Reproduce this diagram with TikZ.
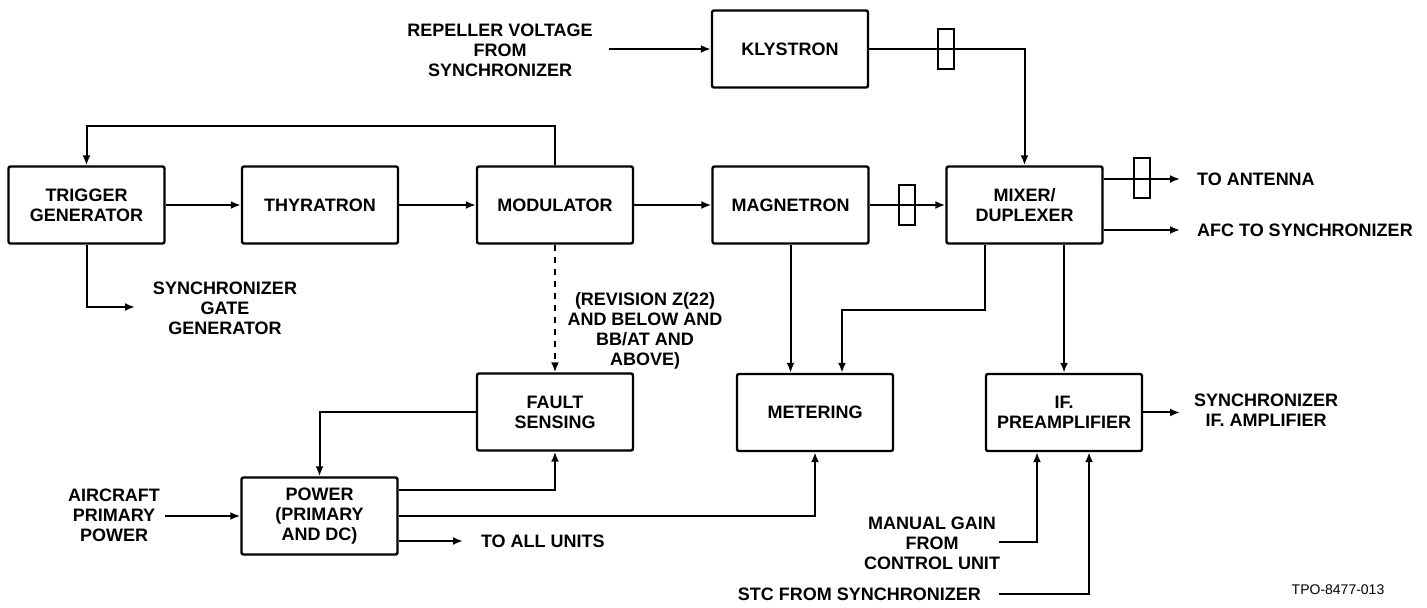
\documentclass[tikz,border=0pt]{standalone}
\usepackage{fontspec}
\setsansfont{Liberation Sans}
\usepackage{tikz}
\usetikzlibrary{positioning,arrows.meta,calc}

\begin{document}
\begin{tikzpicture}[x=0.5pt,y=-0.5pt,font=\sffamily\bfseries\fontsize{9}{10}\selectfont,
  blk/.style={draw,line width=1.2pt,rounded corners=1pt,minimum width=78pt,minimum height=38.5pt,align=center,inner sep=0pt},
  wg/.style={draw,line width=1pt,minimum width=8pt,minimum height=20pt,inner sep=0pt},
  sig/.style={line width=1pt,-{Latex[length=5pt,width=4pt]}},
  lbl/.style={align=center}]
  \useasboundingbox (0,0) rectangle (1427,608);

  \node[blk] (trig)  at (86.5,205)   {TRIGGER\\GENERATOR};
  \node[blk] (thyr)  at (320,205)    {THYRATRON};
  \node[blk] (mod)   at (555,205)    {MODULATOR};
  \node[blk] (mag)   at (790.5,205)  {MAGNETRON};
  \node[blk] (mix)   at (1024.5,205) {MIXER/\\DUPLEXER};
  \node[blk] (kly)   at (790,49)     {KLYSTRON};
  \node[blk] (fault) at (555,412)    {FAULT\\SENSING};
  \node[blk] (meter) at (815,412.5)  {METERING};
  \node[blk] (ifp)   at (1064,412.5) {IF.\\PREAMPLIFIER};
  \node[blk] (power) at (319.5,516)  {POWER\\(PRIMARY\\AND DC)};

  \node[lbl] (repLbl)  at (500,50)   {REPELLER VOLTAGE\\FROM\\SYNCHRONIZER};
  \node[lbl] (gateLbl) at (225,308)  {SYNCHRONIZER\\GATE\\GENERATOR};
  \node[lbl] (revLbl)  at (645,331)  {(REVISION Z(22)\\AND BELOW AND\\BB/AT AND\\ABOVE)};
  \node[lbl] (acLbl)   at (114,515)  {AIRCRAFT\\PRIMARY\\POWER};
  \node[lbl] (ifLbl)   at (1266,410) {SYNCHRONIZER\\IF. AMPLIFIER};
  \node[lbl] (gainLbl) at (932,543)  {MANUAL GAIN\\FROM\\CONTROL UNIT};
  \node[anchor=west] (antLbl) at (1190,179) {TO ANTENNA};
  \node[anchor=west] (afcLbl) at (1190,230) {AFC TO SYNCHRONIZER};
  \node[anchor=west] (allLbl) at (474,541)  {TO ALL UNITS};
  \node[anchor=east] (stcLbl) at (988,594)  {STC FROM SYNCHRONIZER};
  \node[font=\sffamily\fontsize{7}{8}\selectfont] (tpo) at (1338,590) {TPO-8477-013};

  \coordinate (repIn)   at (609,49);
  \coordinate (fb)      at (320,126);
  \coordinate (gateOut) at (135,307);
  \coordinate (antOut)  at (1180,179);
  \coordinate (afcOut)  at (1180,230);
  \coordinate (mixBend) at (985,310);
  \coordinate (mtrIn)   at (842,310);
  \coordinate (allOut)  at (463,541);
  \coordinate (acIn)    at (165,516);
  \coordinate (ifOut)   at (1180,412.5);
  \coordinate (gainIn)  at (999,542);
  \coordinate (stcIn)   at (999,594);

  \draw[sig] (repIn) -- (kly);
  \draw[sig] (kly.east) -| (mix.north);
  \draw[sig] (mod.north) |- (fb) -| (trig.north);
  \draw[sig] (trig.south) |- (gateOut);
  \draw[sig] (trig) -- (thyr);
  \draw[sig] (thyr) -- (mod);
  \draw[sig] (mod) -- (mag);
  \draw[sig] (mag) -- (mix);
  \draw[sig] (antOut -| mix.east) -- (antOut);
  \draw[sig] (afcOut -| mix.east) -- (afcOut);
  \node[wg] (wgA) at (907,205) {};
  \node[wg] (wgB) at (946,49) {};
  \node[wg] (wgC) at (1142,178) {};

  \draw[sig] (mixBend |- mix.south) -- (mixBend) -- (mtrIn) -- (mtrIn |- meter.north);
  \draw[sig] (mag) -- (mag |- meter.north);
  \draw[sig] (mix.south -| ifp) -- (ifp);
  \draw[sig,dashed] (mod) -- (fault);
  \draw[sig] (fault.west) -| (power.north);
  \draw[sig] ([yshift=13pt]power.east) -| (fault.south);
  \draw[sig] (power.east) -| (meter.south);
  \draw[sig] (allOut -| power.east) -- (allOut);
  \draw[sig] (acIn) -- (power);
  \draw[sig] (ifp) -- (ifOut);
  \draw[sig] (gainIn) -| ([xshift=-13.5pt]ifp.south);
  \draw[sig] (stcIn) -| ([xshift=12.5pt]ifp.south);
\end{tikzpicture}
\end{document}
